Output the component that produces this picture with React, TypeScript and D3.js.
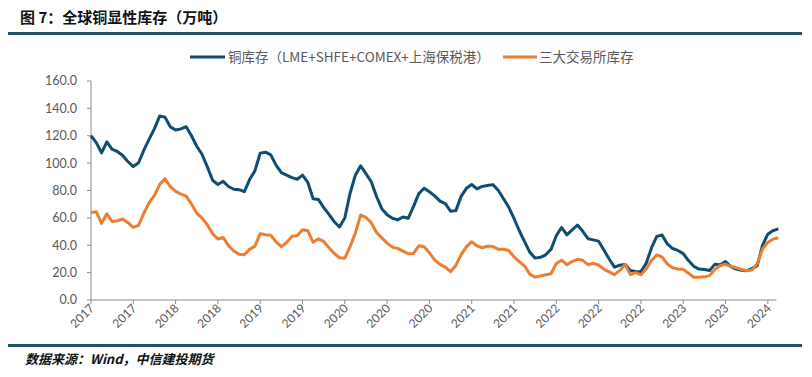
import React from "react";
import * as d3 from "d3";

const title = "图 7：全球铜显性库存（万吨）";
const source = "数据来源：Wind，中信建投期货";
const seriesNames = ["铜库存（LME+SHFE+COMEX+上海保税港）", "三大交易所库存"];
const xTickLabels = ["2017","2017","2018","2018","2019","2019","2020","2020","2020","2021","2021","2022","2022","2022","2023","2023","2024"];
const yTicks = [0, 20, 40, 60, 80, 100, 120, 140, 160];

// one value per sample (roughly every 3 weeks)
const copperTotal = [
  120, 115, 107.5, 115.5, 110, 108.5, 105.6, 101, 97.5, 100.3,
  109.5, 117.5, 125.2, 134.5, 133.5, 126.5, 124.2, 125, 126.6, 120,
  112.3, 106.5, 97.3, 87.5, 84.4, 86.7, 82.9, 80.9, 80.6, 79.2,
  88, 94.4, 107.3, 108, 106, 98.5, 93, 91.2, 89.4, 88.2,
  91.2, 86, 74, 73.5, 67.6, 62.6, 57.2, 53.3, 60, 78,
  91.2, 98, 92.3, 86.4, 75.6, 66.7, 62.3, 59.7, 58.5, 60.6,
  59.7, 68.4, 77.7, 81.6, 79.1, 76.1, 72.2, 70.4, 64.9, 65.3,
  75.7, 81.6, 84.4, 81.2, 83, 83.7, 84.3, 80.2, 74.2, 67.8,
  59.6, 50.6, 42.6, 34.8, 30.6, 31.2, 33, 37, 47, 53,
  47.6, 51.2, 54.8, 50.2, 44.8, 43.9, 43, 36.5, 30, 24,
  25.4, 26, 21.5, 20.9, 20.7, 26.8, 38, 46.5, 47.5, 41,
  37.6, 36.2, 33.9, 28.8, 24.6, 22.6, 22.3, 21.6, 26.2, 25.8,
  28.1, 24.4, 22.6, 21.8, 21.4, 22.9, 25.1, 40, 48.1, 50.7,
  52,
];
const exchangeTotal = [
  64, 64.4, 56, 63, 57.3, 57.9, 59.2, 56.5, 53.1, 54.5,
  63.4, 71.2, 76.5, 84.5, 88.5, 82.8, 79.3, 77.4, 75.9, 70.2,
  63.4, 59.8, 55, 48.5, 44.6, 45.7, 39.7, 35.8, 33.5, 33.1,
  37, 39.3, 48.5, 47.7, 47.3, 42.5, 39, 42, 46.5, 47,
  51.3, 50.6, 42.2, 44.7, 42.8, 38.2, 34, 30.9, 30.5, 39,
  49, 62, 60.3, 56.5, 49.3, 45.4, 41.6, 38.6, 37.7, 35.7,
  33.8, 34, 39.6, 38.9, 34.5, 29.3, 26, 24, 20.7, 25.2,
  33.1, 38.8, 42.6, 39.5, 38.2, 39.4, 39, 37.1, 37.1, 36.2,
  31.5, 28, 24.7, 18.9, 16.7, 17.5, 18.4, 19.2, 26.7, 29.1,
  25.8, 28.1, 29.7, 29, 25.8, 26.8, 25.6, 22.6, 20.5, 18.5,
  21.6, 26, 18.5, 20, 18.5, 22.6, 28.8, 32.9, 31.4, 26.3,
  23.6, 22.6, 22.4, 19.6, 16.6, 16.6, 16.9, 17.8, 22.3, 25.2,
  26.1, 24.6, 23.6, 22.3, 21.5, 22, 26.5, 37.3, 42, 44.5,
  45.5,
];
const samplesPerTick = 8;

const W = 812;
const H = 377;
const BLUE = "#0f4d73";
const ORANGE = "#ed7d31";
const AXIS = "#8c8c8c";
const TEXT = "#595959";
const RULE = "#21505f";

export default function App() {
  const n = copperTotal.length;
  const x = d3.scaleLinear().domain([0, n - 1]).range([91, 91 + (n - 1) * (42.3 / samplesPerTick)]);
  const y = d3.scaleLinear().domain([0, 160]).range([300, 81]);
  const line = d3
    .line<number>()
    .x((_, i) => x(i))
    .y((d) => y(d))
    .curve(d3.curveLinear);

  const tickIdx = xTickLabels.map((_, i) => i * samplesPerTick);
  const axisEnd = x(n - 1) - 2;

  return (
    <svg
      width={W}
      height={H}
      style={{ position: "absolute", left: 0, top: 0, background: "#fff" }}
      fontFamily="'Noto Sans CJK SC', 'Noto Sans', sans-serif"
    >
      <rect x={0} y={0} width={W} height={H} fill="#fff" />
      <text x={20} y={23} fontSize={15} fontWeight={700} fill="#111">
        {title}
      </text>
      <rect x={8} y={32} width={794} height={3} fill={RULE} />

      {/* legend */}
      <line x1={190} x2={225} y1={57} y2={57} stroke={BLUE} strokeWidth={3} />
      <text x={228} y={62} fontSize={13.5} fill={TEXT}>
        {seriesNames[0]}
      </text>
      <line x1={503} x2={537} y1={57} y2={57} stroke={ORANGE} strokeWidth={3} />
      <text x={539} y={62} fontSize={13.5} fill={TEXT}>
        {seriesNames[1]}
      </text>

      {/* y axis */}
      <line x1={91} x2={91} y1={y(160)} y2={y(0)} stroke={AXIS} strokeWidth={1} />
      {yTicks.map((t) => (
        <g key={t}>
          <line x1={87} x2={91} y1={y(t)} y2={y(t)} stroke={AXIS} />
          <text
            x={77}
            y={y(t)}
            dy="0.35em"
            textAnchor="end"
            fontSize={12.5}
            fontFamily="Lato, 'Open Sans', sans-serif"
            fill={TEXT}
          >
            {t.toFixed(1)}
          </text>
        </g>
      ))}

      {/* x axis */}
      <line x1={91} x2={axisEnd} y1={300} y2={300} stroke={AXIS} strokeWidth={1} />
      {tickIdx.map((ti, k) => (
        <g key={k}>
          <line x1={x(ti)} x2={x(ti)} y1={300} y2={304} stroke={AXIS} />
          <text
            transform={`translate(${x(ti) + 4},${309}) rotate(-45)`}
            textAnchor="end"
            fontSize={12}
            fontFamily="Lato, 'Open Sans', sans-serif"
            fill={TEXT}
          >
            {xTickLabels[k]}
          </text>
        </g>
      ))}

      <path d={line(copperTotal) || ""} fill="none" stroke={BLUE} strokeWidth={3} strokeLinejoin="round" />
      <path d={line(exchangeTotal) || ""} fill="none" stroke={ORANGE} strokeWidth={3} strokeLinejoin="round" />

      <rect x={8} y={344} width={794} height={3} fill={RULE} />
      <text x={25} y={364} fontSize={13} fontWeight={700} fontStyle="italic" fill="#111">
        {source}
      </text>
    </svg>
  );
}
